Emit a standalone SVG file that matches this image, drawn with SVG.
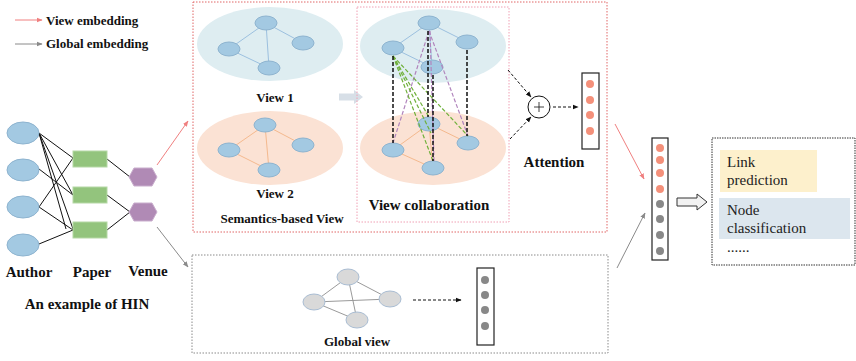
<svg xmlns="http://www.w3.org/2000/svg" width="856" height="361" viewBox="0 0 856 361">
<defs>
<style>
.lbl{font-family:"Liberation Serif","Times New Roman",serif;font-weight:bold;fill:#111;}
.reg{font-family:"Liberation Serif","Times New Roman",serif;fill:#222;font-size:15px;}
.bn{fill:#A3C9E2;stroke:#8DB3CF;stroke-width:1;}
.gn{fill:#D9D9D9;stroke:#A9BDD3;stroke-width:1;}
.be{stroke:#9CC0DF;stroke-width:1;fill:none;}
.oe{stroke:#F4B98E;stroke-width:1;fill:none;}
.ge{stroke:#9A9A9A;stroke-width:1;fill:none;}
.he{stroke:#111;stroke-width:1;fill:none;}
.kd{stroke:#111;stroke-width:1.5;stroke-dasharray:4 2;fill:none;}
.pd{stroke:#B185BD;stroke-width:1.2;stroke-dasharray:4 2;fill:none;}
.vd{stroke:#6FB03A;stroke-width:1.2;stroke-dasharray:4 2;fill:none;}
.ad{stroke:#111;stroke-width:1;stroke-dasharray:3 2;fill:none;}
.sd{fill:#F4907A;}
.gd{fill:#888;}
.vec{fill:#fff;stroke:#222;stroke-width:1.2;}
</style>
<marker id="mp" viewBox="0 0 10 10" refX="9" refY="5" markerWidth="6" markerHeight="6" orient="auto"><path d="M0,1 L10,5 L0,9 z" fill="#F08080"/></marker>
<marker id="mg" viewBox="0 0 10 10" refX="9" refY="5" markerWidth="6" markerHeight="6" orient="auto"><path d="M0,1 L10,5 L0,9 z" fill="#8A8A8A"/></marker>
<marker id="mk" viewBox="0 0 10 10" refX="9" refY="5" markerWidth="6" markerHeight="6" orient="auto"><path d="M0,1 L10,5 L0,9 z" fill="#111"/></marker>
</defs>
<rect width="856" height="361" fill="#fff"/>

<g id="legend">
<line x1="15" y1="20" x2="42" y2="20" stroke="#F08080" stroke-width="1" marker-end="url(#mp)"/>
<text class="lbl" x="46" y="25" font-size="13">View embedding</text>
<line x1="15" y1="44" x2="42" y2="44" stroke="#8A8A8A" stroke-width="1" marker-end="url(#mg)"/>
<text class="lbl" x="46" y="48" font-size="13">Global embedding</text>
</g>

<g id="hin">
<g id="hin-edges">
<line class="he" x1="39" y1="133" x2="73" y2="158"/>
<line class="he" x1="39" y1="133" x2="73" y2="195"/>
<line class="he" x1="39" y1="133" x2="73" y2="229"/>
<line class="he" x1="39" y1="133" x2="66" y2="229"/>
<line class="he" x1="39" y1="169" x2="73" y2="195"/>
<line class="he" x1="39" y1="207" x2="73" y2="158"/>
<line class="he" x1="39" y1="207" x2="73" y2="230"/>
<line class="he" x1="39" y1="244" x2="73" y2="230"/>
<line class="he" x1="107" y1="159" x2="130" y2="177"/>
<line class="he" x1="107" y1="195" x2="130" y2="212"/>
<line class="he" x1="107" y1="230" x2="130" y2="212"/>
</g>
<g id="authors">
<ellipse class="bn" cx="23" cy="133" rx="16" ry="11"/>
<ellipse class="bn" cx="23" cy="170" rx="16" ry="11"/>
<ellipse class="bn" cx="23" cy="207" rx="16" ry="11"/>
<ellipse class="bn" cx="23" cy="245" rx="16" ry="11"/>
</g>
<g id="papers" fill="#93C47D" stroke="#B5D8A6" stroke-width="1">
<rect x="73" y="151" width="34" height="16"/>
<rect x="73" y="187" width="34" height="16"/>
<rect x="73" y="222" width="34" height="16"/>
</g>
<g id="venues" fill="#B08AB5" stroke="#C9AECD" stroke-width="1">
<polygon points="129,177 134,168 152,168 157,177 152,186 134,186"/>
<polygon points="129,212 134,203 152,203 157,212 152,221 134,221"/>
</g>
<text class="lbl" x="29" y="277" font-size="15" text-anchor="middle">Author</text>
<text class="lbl" x="92" y="277" font-size="15" text-anchor="middle">Paper</text>
<text class="lbl" x="148" y="276" font-size="15" text-anchor="middle">Venue</text>
<text class="lbl" x="87" y="309" font-size="15" text-anchor="middle">An example of HIN</text>
</g>

<g id="semantic-box">
<rect x="193" y="2" width="414" height="230" fill="none" stroke="#E06666" stroke-width="1" stroke-dasharray="1.5 1.5"/>
</g>

<g id="view1">
<ellipse cx="270" cy="44" rx="73" ry="37" fill="#DEEDF1"/>
<line class="be" x1="266" y1="23" x2="229" y2="49"/>
<line class="be" x1="266" y1="23" x2="303" y2="43"/>
<line class="be" x1="266" y1="23" x2="269" y2="68"/>
<line class="be" x1="229" y1="49" x2="269" y2="68"/>
<ellipse class="bn" cx="266" cy="23" rx="11" ry="7"/>
<ellipse class="bn" cx="229" cy="49" rx="11" ry="7"/>
<ellipse class="bn" cx="303" cy="43" rx="11" ry="7"/>
<ellipse class="bn" cx="269" cy="68" rx="11" ry="7"/>
<text class="lbl" x="275" y="102" font-size="13" text-anchor="middle">View 1</text>
</g>

<g id="view2">
<ellipse cx="270" cy="148" rx="73" ry="37" fill="#FBE2D4"/>
<line class="oe" x1="265" y1="125" x2="229" y2="150"/>
<line class="oe" x1="265" y1="125" x2="303" y2="145"/>
<line class="oe" x1="265" y1="125" x2="269" y2="170"/>
<line class="oe" x1="229" y1="150" x2="269" y2="170"/>
<ellipse class="bn" cx="265" cy="125" rx="11" ry="7"/>
<ellipse class="bn" cx="229" cy="150" rx="11" ry="7"/>
<ellipse class="bn" cx="303" cy="145" rx="11" ry="7"/>
<ellipse class="bn" cx="269" cy="170" rx="11" ry="7"/>
<text class="lbl" x="275" y="198" font-size="13" text-anchor="middle">View 2</text>
<text class="lbl" x="282" y="223" font-size="13" text-anchor="middle">Semantics-based View</text>
</g>

<g id="shift-arrow">
<polygon points="339,93.5 354,93.5 354,90 363,97 354,104 354,100.5 339,100.5" fill="#D7DFE7"/>
</g>

<g id="view-collaboration">
<rect x="357" y="7" width="152" height="215" fill="none" stroke="#F0A0B4" stroke-width="1" stroke-dasharray="1.5 1.5"/>
<ellipse cx="433" cy="46" rx="73" ry="37" fill="#DEEDF1"/>
<ellipse cx="433" cy="148" rx="73" ry="37" fill="#FBE2D4"/>
<line class="be" x1="429" y1="23" x2="393" y2="48"/>
<line class="be" x1="429" y1="23" x2="467" y2="42"/>
<line class="be" x1="429" y1="23" x2="432" y2="67"/>
<line class="be" x1="393" y1="48" x2="432" y2="67"/>
<line class="oe" x1="429" y1="124" x2="393" y2="150"/>
<line class="oe" x1="429" y1="124" x2="468" y2="143"/>
<line class="oe" x1="429" y1="124" x2="433" y2="168"/>
<line class="oe" x1="393" y1="150" x2="433" y2="168"/>
<ellipse class="bn" cx="429" cy="23" rx="11" ry="7"/>
<ellipse class="bn" cx="393" cy="48" rx="11" ry="7"/>
<ellipse class="bn" cx="467" cy="42" rx="11" ry="7"/>
<ellipse class="bn" cx="432" cy="67" rx="11" ry="7"/>
<ellipse class="bn" cx="429" cy="124" rx="11" ry="7"/>
<ellipse class="bn" cx="393" cy="150" rx="11" ry="7"/>
<ellipse class="bn" cx="468" cy="143" rx="11" ry="7"/>
<ellipse class="bn" cx="433" cy="168" rx="11" ry="7"/>
<g id="collab-links">
<line class="pd" x1="429" y1="31" x2="393" y2="143"/>
<line class="pd" x1="429" y1="31" x2="468" y2="136"/>
<line class="pd" x1="430" y1="31" x2="434" y2="161"/>
<line class="vd" x1="393" y1="56" x2="429" y2="117"/>
<line class="vd" x1="393" y1="56" x2="433" y2="161"/>
<line class="vd" x1="393" y1="56" x2="468" y2="136"/>
<line class="vd" x1="393" y1="56" x2="431" y2="133"/>
<line class="kd" x1="393" y1="56" x2="393" y2="143"/>
<line class="kd" x1="428" y1="31" x2="428" y2="117"/>
<line class="kd" x1="433" y1="75" x2="433" y2="161"/>
<line class="kd" x1="467" y1="50" x2="467" y2="136"/>
</g>
<text class="lbl" x="429" y="210" font-size="15" text-anchor="middle">View collaboration</text>
</g>

<g id="attention">
<line class="ad" x1="508" y1="70" x2="531" y2="97" marker-end="url(#mk)"/>
<line class="ad" x1="510" y1="139" x2="531" y2="117" marker-end="url(#mk)"/>
<circle cx="539" cy="107" r="11" fill="#fff" stroke="#111" stroke-width="1"/>
<path d="M534,107 h10 M539,102 v10" stroke="#111" stroke-width="0.8"/>
<line class="ad" x1="553" y1="107" x2="578" y2="107" marker-end="url(#mk)"/>
<rect class="vec" x="582" y="73" width="17" height="76"/>
<circle class="sd" cx="590" cy="84" r="4"/>
<circle class="sd" cx="590" cy="100" r="4"/>
<circle class="sd" cx="590" cy="115" r="4"/>
<circle class="sd" cx="590" cy="131" r="4"/>
<text class="lbl" x="554" y="167" font-size="15" text-anchor="middle">Attention</text>
</g>

<g id="global-view">
<rect x="192" y="255" width="416" height="98" fill="none" stroke="#8A8A8A" stroke-width="1" stroke-dasharray="1.5 1.5"/>
<line class="ge" x1="348" y1="277" x2="314" y2="302"/>
<line class="ge" x1="348" y1="277" x2="357" y2="320"/>
<line class="ge" x1="348" y1="277" x2="390" y2="299"/>
<line class="ge" x1="314" y1="302" x2="390" y2="299"/>
<line class="ge" x1="314" y1="302" x2="357" y2="320"/>
<ellipse class="gn" cx="348" cy="277" rx="11" ry="8"/>
<ellipse class="gn" cx="314" cy="302" rx="11" ry="8"/>
<ellipse class="gn" cx="390" cy="299" rx="11" ry="8"/>
<ellipse class="gn" cx="357" cy="320" rx="11" ry="8"/>
<line class="ad" x1="413" y1="300" x2="461" y2="300" marker-end="url(#mk)"/>
<rect class="vec" x="477" y="268" width="17" height="77"/>
<circle class="gd" cx="485" cy="280" r="4"/>
<circle class="gd" cx="485" cy="295" r="4"/>
<circle class="gd" cx="485" cy="310" r="4"/>
<circle class="gd" cx="485" cy="326" r="4"/>
<text class="lbl" x="357" y="346" font-size="13" text-anchor="middle">Global view</text>
</g>

<g id="connectors">
<line x1="157" y1="165" x2="188" y2="121" stroke="#F08080" stroke-width="1" marker-end="url(#mp)"/>
<line x1="157" y1="227" x2="188" y2="267" stroke="#8A8A8A" stroke-width="1" marker-end="url(#mg)"/>
<line x1="615" y1="124" x2="644" y2="179" stroke="#F08080" stroke-width="1" marker-end="url(#mp)"/>
<line x1="617" y1="268" x2="645" y2="213" stroke="#8A8A8A" stroke-width="1" marker-end="url(#mg)"/>
</g>

<g id="final-embedding">
<rect class="vec" x="652" y="138" width="16" height="122"/>
<circle class="sd" cx="660" cy="148" r="4"/>
<circle class="sd" cx="660" cy="160" r="4"/>
<circle class="sd" cx="660" cy="173" r="4"/>
<circle class="sd" cx="660" cy="189" r="4"/>
<circle class="gd" cx="660" cy="204" r="4"/>
<circle class="gd" cx="660" cy="219" r="4"/>
<circle class="gd" cx="660" cy="235" r="4"/>
<circle class="gd" cx="660" cy="251" r="4"/>
</g>

<g id="to-tasks">
<polygon points="677,198 697,198 697,194 707,202 697,210 697,206 677,206" fill="#F2F2F2" stroke="#333" stroke-width="1"/>
</g>

<g id="tasks">
<rect x="712" y="138" width="143" height="127" fill="none" stroke="#333" stroke-width="1" stroke-dasharray="1.5 1"/>
<rect x="720" y="150" width="97" height="42" fill="#FDF0CC"/>
<text class="reg" x="727" y="167">Link</text>
<text class="reg" x="727" y="185">prediction</text>
<rect x="719" y="198" width="131" height="41" fill="#DCE6EE"/>
<text class="reg" x="727" y="215">Node</text>
<text class="reg" x="727" y="233">classification</text>
<text class="reg" x="727" y="252">......</text>
</g>
</svg>
